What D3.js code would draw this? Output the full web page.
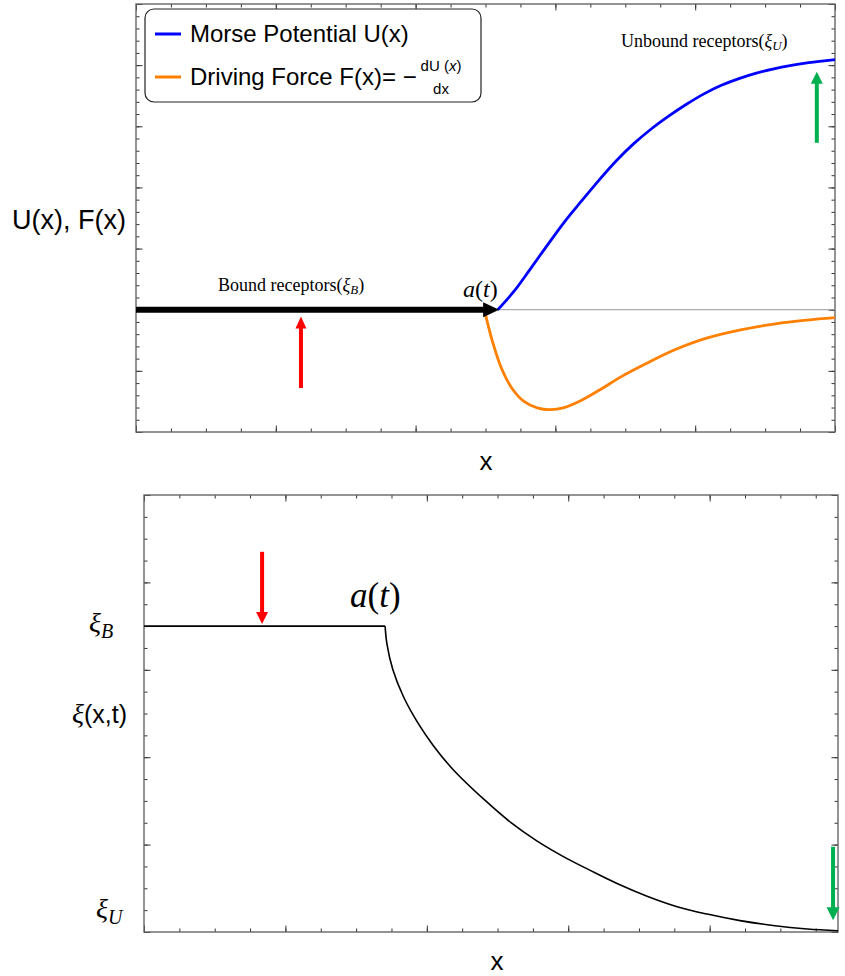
<!DOCTYPE html>
<html>
<head>
<meta charset="utf-8">
<script src="https://cdn.jsdelivr.net/npm/d3@7"></script>
<style>
  body { margin: 0; background: #fff; }
  text { font-family: "Liberation Sans", Arial, sans-serif; fill: #000; }
  .serif { font-family: "Liberation Serif", "Times New Roman", serif; }
</style>
</head>
<body>
<div id="chart"></div>
<script>
// ---- top panel: Morse potential and driving force
var potX   = [10.35, 10.8, 11.25, 11.75, 12.25, 12.75, 13.25, 13.75, 14.25, 14.75, 15.25, 15.75, 16.25, 16.75, 17.25, 17.75, 18.25, 18.75, 19.25, 20.0];
var potY   = [0, 0.29, 0.64, 1.04, 1.43, 1.78, 2.12, 2.44, 2.72, 2.96, 3.17, 3.36, 3.53, 3.67, 3.78, 3.87, 3.94, 3.995, 4.04, 4.09];
var forceX = [10.0, 10.2, 10.45, 10.75, 11.1, 11.5, 11.85, 12.25, 12.75, 13.3, 13.9, 14.6, 15.4, 16.3, 17.3, 18.3, 19.2, 20.0];
var forceY = [-0.08, -0.52, -0.95, -1.28, -1.50, -1.61, -1.635, -1.60, -1.48, -1.30, -1.09, -0.88, -0.66, -0.47, -0.33, -0.23, -0.17, -0.13];
var boundArrow = [0, 10.39];     // x from .. to (y = 0)
var redUp   = [4.72, -1.28, -0.11];  // x, y from, y to
var greenUp = [19.48, 2.73, 3.89];

// ---- bottom panel: receptor fraction xi(x,t)
var xiX = [0, 6.82, 6.87, 7.04, 7.33, 7.72, 8.18, 8.74, 9.65, 10.4, 11.1, 11.85, 12.62, 13.38, 14.23, 15.08, 15.93, 16.86, 17.79, 18.76, 19.63];
var xiY = [0.70, 0.70, 0.660, 0.600, 0.540, 0.482, 0.427, 0.372, 0.301, 0.249, 0.209, 0.173, 0.141, 0.111, 0.082, 0.058, 0.041, 0.026, 0.015, 0.007, 0.003];
var xiB = 0.70, xiU = 0, xiMid = 0.5;
var redDown   = [3.34, 0.87, 0.705];
var greenDown = [19.49, 0.195, 0.027];

var svg = d3.select("#chart").append("svg")
  .attr("width", 845)
  .attr("height", 976);

// top scales
var x1 = d3.scaleLinear().domain([0, 20]).range([136, 835]);
var y1 = d3.scaleLinear().domain([-2, 5]).range([432, 4]);
// bottom scales
var x2 = d3.scaleLinear().domain([0, 19.63]).range([144, 838]);
var y2 = d3.scaleLinear().domain([0, 1]).range([932, 495]);

// mathematica style frame with inward ticks on all 4 sides
function frame(x, y, xMaj, xMin, yMaj, yMin) {
  var g = svg.append("g");
  var x0 = x.range()[0], xr = x.range()[1], yb = y.range()[0], yt = y.range()[1];
  function put(axis, tx, ty, vals, size) {
    g.append("g")
      .attr("transform", `translate(${tx},${ty})`)
      .call(axis.tickValues(vals).tickSize(-size).tickFormat(""))
      .call(a => a.select(".domain").remove())
      .selectAll("line").attr("stroke", "#333").attr("stroke-width", 1);
  }
  [[xMin, 3.5], [xMaj, 6.5]].forEach(function(t) {
    put(d3.axisBottom(x), 0, yb, t[0], t[1]);
    put(d3.axisTop(x), 0, yt, t[0], t[1]);
  });
  [[yMin, 3.5], [yMaj, 6.5]].forEach(function(t) {
    put(d3.axisLeft(y), x0, 0, t[0], t[1]);
    put(d3.axisRight(y), xr, 0, t[0], t[1]);
  });
  g.append("rect")
    .attr("x", x0).attr("y", yt)
    .attr("width", xr - x0).attr("height", yb - yt)
    .attr("fill", "none").attr("stroke", "#666").attr("stroke-width", 1.4);
}

frame(x1, y1, d3.range(0, 21, 4), d3.range(0, 21, 1), d3.range(-2, 6, 1), d3.range(-2, 5.01, 0.2));
frame(x2, y2, d3.range(0, 20, 4), d3.range(0, 20, 1), d3.range(0, 1.01, 0.2), d3.range(0, 1.001, 0.05));

// arrow helper, drawn in pixel space from scaled ends
function arrow(xa, ya, xb, yb, color, shaft, headW, headL) {
  var dx = xb - xa, dy = yb - ya, len = Math.sqrt(dx * dx + dy * dy);
  var ux = dx / len, uy = dy / len;
  var bx = xb - ux * headL, by = yb - uy * headL;
  svg.append("line")
    .attr("x1", xa).attr("y1", ya).attr("x2", bx + ux).attr("y2", by + uy)
    .attr("stroke", color).attr("stroke-width", shaft);
  svg.append("path")
    .attr("d", `M${xb},${yb}L${bx - uy * headW / 2},${by + ux * headW / 2}L${bx + uy * headW / 2},${by - ux * headW / 2}Z`)
    .attr("fill", color);
}

// ---------------- top panel ----------------
svg.append("line")
  .attr("x1", x1(0)).attr("x2", x1(20))
  .attr("y1", y1(0)).attr("y2", y1(0))
  .attr("stroke", "#999").attr("stroke-width", 1);

var lineTop = d3.line().x(d => x1(d[0])).y(d => y1(d[1])).curve(d3.curveCatmullRom.alpha(0.5));

svg.append("path")
  .datum(forceX.map((v, i) => [v, forceY[i]]))
  .attr("d", lineTop)
  .attr("fill", "none").attr("stroke", "#ff8000").attr("stroke-width", 2.8);

svg.append("path")
  .datum(potX.map((v, i) => [v, potY[i]]))
  .attr("d", lineTop)
  .attr("fill", "none").attr("stroke", "#0000ff").attr("stroke-width", 2.8);

arrow(x1(boundArrow[0]), y1(0), x1(boundArrow[1]), y1(0), "#000", 6, 15, 16);
arrow(x1(redUp[0]), y1(redUp[1]), x1(redUp[0]), y1(redUp[2]), "#ff0000", 4, 11, 12);
arrow(x1(greenUp[0]), y1(greenUp[1]), x1(greenUp[0]), y1(greenUp[2]), "#00b050", 4, 12, 12);

var tb = svg.append("text").attr("class", "serif").attr("x", 218).attr("y", 291).style("font-size", "18px");
tb.append("tspan").text("Bound receptors(");
tb.append("tspan").style("font-style", "italic").text("ξ");
tb.append("tspan").style("font-style", "italic").style("font-size", "13px").attr("dy", 3).text("B");
tb.append("tspan").attr("dy", -3).text(")");

var tu = svg.append("text").attr("class", "serif").attr("x", 621).attr("y", 47).style("font-size", "18px");
tu.append("tspan").text("Unbound receptors(");
tu.append("tspan").style("font-style", "italic").text("ξ");
tu.append("tspan").style("font-style", "italic").style("font-size", "13px").attr("dy", 3).text("U");
tu.append("tspan").attr("dy", -3).text(")");

var ta = svg.append("text").attr("class", "serif").attr("x", 463).attr("y", 297).style("font-size", "24px");
ta.append("tspan").style("font-style", "italic").text("a");
ta.append("tspan").text("(");
ta.append("tspan").style("font-style", "italic").text("t");
ta.append("tspan").text(")");

svg.append("text").attr("x", 12).attr("y", 229).style("font-size", "27px").text("U(x), F(x)");
svg.append("text").attr("x", 486).attr("y", 470).attr("text-anchor", "middle").style("font-size", "26px").text("x");

// legend
var leg = svg.append("g");
leg.append("rect").attr("x", 145).attr("y", 9).attr("width", 336).attr("height", 93).attr("rx", 9)
  .attr("fill", "#fff").attr("stroke", "#222").attr("stroke-width", 1.2);
leg.append("line").attr("x1", 155).attr("x2", 181).attr("y1", 34).attr("y2", 34)
  .attr("stroke", "#0000ff").attr("stroke-width", 3);
leg.append("line").attr("x1", 155).attr("x2", 181).attr("y1", 77).attr("y2", 77)
  .attr("stroke", "#ff8000").attr("stroke-width", 3);
leg.append("text").attr("x", 190).attr("y", 42).style("font-size", "24px").text("Morse Potential U(x)");
leg.append("text").attr("x", 190).attr("y", 85).style("font-size", "24px").text("Driving Force F(x)= \u2212");
var num = leg.append("text").attr("x", 441).attr("y", 71).attr("text-anchor", "middle").style("font-size", "15px");
num.append("tspan").text("dU (");
num.append("tspan").style("font-style", "italic").text("x");
num.append("tspan").text(")");
leg.append("text").attr("x", 441).attr("y", 94).attr("text-anchor", "middle").style("font-size", "15px").text("dx");

// ---------------- bottom panel ----------------
var lineBot = d3.line().x(d => x2(d[0])).y(d => y2(d[1]));
var xiPts = xiX.map((v, i) => [v, xiY[i]]);

svg.append("path")
  .datum(xiPts.slice(0, 2))
  .attr("d", lineBot)
  .attr("fill", "none").attr("stroke", "#000").attr("stroke-width", 1.6);
svg.append("path")
  .datum(xiPts.slice(1))
  .attr("d", lineBot.curve(d3.curveCatmullRom.alpha(0.5)))
  .attr("fill", "none").attr("stroke", "#000").attr("stroke-width", 1.6);

arrow(x2(redDown[0]), y2(redDown[1]), x2(redDown[0]), y2(redDown[2]), "#ff0000", 4, 12, 12);
arrow(x2(greenDown[0]), y2(greenDown[1]), x2(greenDown[0]), y2(greenDown[2]), "#00b050", 4, 13, 13);

var tb2 = svg.append("text").attr("class", "serif").attr("x", 350).attr("y", 607).style("font-size", "35px");
tb2.append("tspan").style("font-style", "italic").text("a");
tb2.append("tspan").text("(");
tb2.append("tspan").style("font-style", "italic").text("t");
tb2.append("tspan").text(")");

var lb = svg.append("text").attr("class", "serif").attr("x", 89).attr("y", y2(xiB) + 6).style("font-size", "28px");
lb.append("tspan").style("font-style", "italic").text("ξ");
lb.append("tspan").style("font-style", "italic").style("font-size", "20px").attr("dy", 6).text("B");

var lm = svg.append("text").attr("x", 72).attr("y", y2(xiMid) + 9).style("font-size", "25px");
lm.append("tspan").attr("class", "serif").style("font-style", "italic").style("font-size", "28px").text("ξ");
lm.append("tspan").text("(x,t)");

var lu = svg.append("text").attr("class", "serif").attr("x", 96).attr("y", y2(xiU) - 14).style("font-size", "28px");
lu.append("tspan").style("font-style", "italic").text("ξ");
lu.append("tspan").style("font-style", "italic").style("font-size", "20px").attr("dy", 6).text("U");

svg.append("text").attr("x", 497).attr("y", 970).attr("text-anchor", "middle").style("font-size", "26px").text("x");
</script>
</body>
</html>
